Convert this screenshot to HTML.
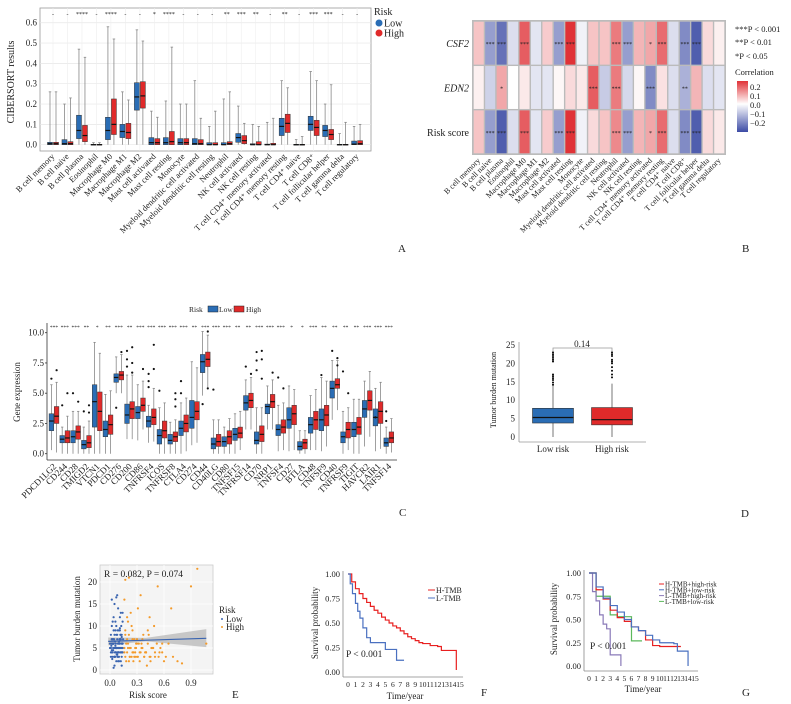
<!DOCTYPE html>
<html><head><meta charset="utf-8">
<style>
html,body{margin:0;padding:0;background:#fff;}
svg{display:block;font-family:"Liberation Serif",serif;}
</style></head>
<body>
<svg id="fig" width="791" height="704" viewBox="0 0 791 704" xmlns="http://www.w3.org/2000/svg"></svg>
<script>
// ---------- Panel A data ----------
const cellTypes=["B cell memory","B cell naive","B cell plasma","Eosinophil","Macrophage M0","Macrophage M1","Macrophage M2","Mast cell activated","Mast cell resting","Monocyte","Myeloid dendritic cell activated","Myeloid dendritic cell resting","Neutrophil","NK cell activated","NK cell resting","T cell CD4⁺ memory activated","T cell CD4⁺ memory resting","T cell CD4⁺ naive","T cell CD8⁺","T cell follicular helper","T cell gamma delta","T cell regulatory"];
const aLowQ1=[0,0,.03,0,.025,.035,.17,0,0,0,0,0,0,.012,0,0,.045,0,.07,.04,0,0];
const aLowMed=[.005,.005,.07,0,.07,.065,.235,.01,.01,.01,.005,0,0,.035,0,0,.09,0,.1,.07,0,.003];
const aLowQ3=[.012,.025,.145,.002,.135,.1,.305,.035,.035,.03,.03,.01,.01,.055,.005,.003,.13,.002,.14,.095,.002,.018];
const aLowHi=[.26,.2,.47,.01,.58,.26,.565,.165,.215,.2,.315,.09,.225,.19,.1,.11,.315,.025,.36,.2,.055,.09];
const aHighQ1=[0,0,.015,0,.05,.03,.18,0,0,0,0,0,0,.005,0,0,.06,0,.045,.025,0,0];
const aHighMed=[.005,.005,.045,0,.1,.06,.24,.01,.015,.01,.005,0,.005,.02,0,0,.105,0,.085,.05,0,.005];
const aHighQ3=[.012,.015,.095,.002,.225,.105,.31,.03,.065,.03,.025,.01,.015,.045,.015,.007,.15,.002,.12,.075,.002,.02];
const aHighHi=[.26,.23,.43,.01,.52,.22,.51,.135,.48,.2,.13,.165,.26,.105,.09,.13,.28,.04,.315,.295,.11,.1];
const aSig=["-","-","****","-","****","-","-","*","****","-","-","-","**","***","**","-","**","-","***","***","-","-"];
const aTicks=[0,0.1,0.2,0.3,0.4,0.5,0.6];

// ---------- Panel B data ----------
const hmRows=["CSF2","EDN2","Risk score"];
const hmCSF2=[.08,-.15,-.22,-.05,.22,-.04,.07,-.15,.28,-.02,.08,.08,.18,-.15,.1,.12,.2,-.05,-.18,-.25,.05,.02];
const hmEDN2=[.02,-.07,.12,0,.03,-.04,-.04,.01,.05,.03,.22,-.08,.18,-.06,.01,-.18,.04,-.05,-.12,.1,-.05,-.04];
const hmRisk=[.08,-.15,-.25,-.05,.22,-.04,.07,-.15,.28,-.02,.05,.08,.16,-.15,.1,.12,.2,-.05,-.18,-.25,.05,.03];
const starCSF2=["","***","***","","***","","","***","***","","","","***","***","","*","***","","***","***","",""];
const starEDN2=["","","*","","","","","","","","***","","***","","","***","","","**","","",""];
const starRisk=["","***","***","","***","","","***","***","","","","***","***","","*","***","","***","***","",""];

// ---------- Panel C data ----------
const genes=["PDCD1LG2","CD244","CD28","TMIGD2","VTCN1","PDCD1","CD276","CD200","CD86","TNFRSF4","ICOS","TNFRSF8","CTLA4","CD274","CD44","CD40LG","CD80","TNFSF15","TNFRSF14","CD70","NRP1","TNFSF4","CD27","BTLA","CD48","TNFSF9","CD40","TNFRSF9","TIGIT","HAVCR2","LAIR1","TNFSF14"];
const cLowQ1=[1.9,.9,.9,.4,2.2,1.4,5.9,2.5,2.9,2.2,.8,.8,1.5,2.1,6.7,.4,.6,1.1,3.6,.8,3.3,1.5,2.1,.3,1.7,1.9,4.6,.9,1.4,3,2.3,.6];
const cLowMed=[2.7,1.2,1.4,.75,4.3,2,6.3,3.2,3.4,2.7,1.5,1.1,2.1,3,7.6,.8,1,1.6,4.2,1.1,3.9,2,2.8,.6,2.4,2.8,5.4,1.4,2,3.7,3,.9];
const cLowQ3=[3.3,1.5,1.9,1.1,5.7,2.7,6.6,4.1,3.9,3.1,2,1.6,2.7,4.4,8.2,1.3,1.4,2.1,4.8,1.8,4.1,2.4,3.8,1,3,3.7,6,1.8,2.6,4.4,3.7,1.3];
const cLowLo=[.3,0,0,0,0,0,5,1.2,1.1,.9,0,0,0,.7,4.8,0,0,0,2,0,2,.2,.2,0,.3,.2,2.8,0,0,.6,.2,0];
const cLowHi=[5.7,2.2,3.5,2.2,9.2,4.9,8,6.5,5.7,4,3.8,2.6,4.2,7.6,10.1,2.8,2.2,3.3,6.1,3.8,5.6,4,5.6,1.9,4.8,6.3,7.7,3.5,4.5,6,5.4,2.2];
const cHighQ1=[2.5,.9,1.2,.5,1.9,1.6,6.1,2.9,3.5,2.4,1.3,1,1.8,2.8,7.2,.6,.8,1.3,3.8,1,3.8,1.7,2.4,.4,2,2.3,5.4,1.3,1.6,3.6,2.5,.9];
const cHighMed=[3.1,1.3,1.8,.9,3.5,2.4,6.5,3.7,4,3,1.9,1.4,2.5,3.5,7.8,1,1.4,1.7,4.4,1.6,4.3,2.2,3.3,.9,2.8,3.2,5.7,2,2.2,4.4,3.5,1.3];
const cHighQ3=[3.9,1.9,2.3,1.5,5.1,3.2,6.8,4.3,4.6,3.7,2.7,1.8,3.2,4.3,8.4,1.6,1.9,2.2,5,2.3,4.9,2.8,4,1.2,3.5,4,6.2,2.6,3,5.2,4.3,1.8];
const cHighLo=[.1,0,0,0,0,0,5,1.2,2,1,0,0,.2,.9,5.5,0,0,.3,2,0,2,.3,.3,0,.3,.6,3.6,.3,0,1.4,.4,.1];
const cHighHi=[5.9,3.1,3.5,2.7,8.3,5.2,8.2,6.5,6,5.4,4.2,2.8,4.6,7.1,9.8,2.8,2.9,3.5,6.3,3.8,6.1,4.2,5.3,1.9,5.3,6,7.7,3.8,4.5,6.8,5.9,2.9];
const cSig=["***","***","***","**","*","**","***","**","***","***","***","***","***","**","***","***","***","**","**","***","***","***","*","*","***","**","**","**","**","***","***","***"];
const cTicks=[0,2.5,5,7.5,10];
// outliers: gene index, group (0 low / 1 high), value
const cOutGene=[0,0,1,1,2,2,3,3,3,6,6,7,7,7,7,7,7,8,9,9,9,9,9,10,11,11,11,12,12,14,14,14,15,18,18,19,19,19,19,19,19,20,21,21,25,26,26,26,27,27,30,31,31];
const cOutGrp=[0,1,0,1,0,1,0,1,1,0,1,0,0,0,1,1,1,1,0,0,0,1,1,0,1,1,1,0,0,0,1,1,0,0,1,0,0,0,1,1,1,1,0,1,0,0,1,1,0,1,0,0,0];
const cOutVal=[6.2,6.9,4,5,5,4.3,3.5,3.4,4,3.8,8.4,8.5,7.8,7.2,8.8,7.5,6.7,7,6.6,6,5.5,7,9,5.2,5,4.5,3.9,6,5,4.1,10.1,5.4,5.3,7.2,6.6,8.4,7.7,6.9,8.5,7.8,6.2,6.7,6.3,5.4,6.5,8.5,7.9,7.3,6.8,5,3,3.5,2.7];

// ---------- Panel D data ----------
const dGroups=["Low risk","High risk"];
const dQ1=[3.8,3.3], dMed=[5.3,4.7], dQ3=[7.8,8.0], dLo=[0,0], dHi=[14,14.5];
const dOutLow=[14.2,14.8,15.5,16,16.5,17,20.5,21,21.5,22,22.5,23];
const dOutHigh=[16.2,17,18,19,20,20.5,21,22,22.5,23];
const dTicks=[0,5,10,15,20,25];

// ---------- Panel E data ----------
const eLowX=[.01,.02,.03,.04,.05,.06,.07,.08,.09,.1,.11,.12,.13,.14,.02,.04,.06,.08,.1,.12,.14,.01,.03,.05,.07,.09,.11,.13,.02,.05,.08,.11,.14,.03,.06,.09,.12,.0,.04,.07,.1,.13,.05,.09,.12,.02,.06,.1,.13,.08,.03,.11,.07,.04,.12,
 .01,.015,.025,.035,.045,.055,.065,.075,.085,.095,.105,.115,.125,.135,.145,.01,.02,.03,.04,.05,.06,.07,.08,.09,.1,.11,.12,.13,.14,.015,.035,.055,.075,.095,.115,.135,.025,.045,.065,.085,.105,.125,.0,.02,.04,.06,.08,.1,.12,.14,.03,.05,.07,.09,.11,.13];
const eLowY=[5,4,6,7,3,5,8,4,6,9,5,7,3,6,10,12,11,8,2,4,13,3,6,5,2,14,9,1,16,15,17,12,11,7,4,3,8,6,9,10,5,6,1,2,13,4.5,5.5,6.5,7.5,3.5,11,9.5,16.5,0.5,4,
 4,6,3,5,7,4,6,5,3,4,6,8,5,4,7,8,7,4,6,3,9,5,7,4,3,6,5,8,4,5.5,4.5,6.5,3.5,5,7,6,2.5,3,4,9,7,10,5,7,6,3,5,4,2,5,6,8,5,6,7,4,3];
const eHighX=[.16,.18,.2,.22,.25,.28,.3,.33,.35,.38,.4,.43,.45,.48,.5,.55,.6,.65,.7,.75,.8,.9,.97,1.07,.17,.19,.21,.24,.27,.31,.36,.42,.47,.52,.58,.62,.68,.16,.2,.23,.26,.29,.34,.39,.44,.49,.56,.18,.22,.25,.3,.37,.41,.53,.17,.21,.28,.33,
 .16,.17,.19,.2,.22,.24,.26,.27,.29,.31,.32,.34,.36,.38,.4,.42,.44,.46,.5,.54,.58,.17,.19,.21,.23,.25,.28,.3,.35,.4,.45];
const eHighY=[4,6,5,3,7,4,6,2,5,3,4,8,2,5,3,4,2,6,3,2,1.5,19,23,6,9,12,8,10,3,14,7,9,5,6,4,3,14,16,11,13,2,6,17,4,12,10,5,2,3,9,7,8,1,19,20.5,21,3,4,
 5,3,4,6,5,3,4,7,5,3,6,4,5,3,4,6,3,5,4,3,6,8,7,2,5,4,5,3,6,4,3];
const eTicksX=[0,0.3,0.6,0.9];
const eTicksY=[0,5,10,15,20];
const eFitStart=[-.02,6.5], eFitEnd=[1.07,7.2];

// ---------- Panel F data ----------
const fHtime=[0,.5,1,1.5,2,2.5,3,3.5,4,4.5,5,5.5,6,6.5,7,7.5,8,8.5,9,9.5,10,11,12,12.5,13,14.5];
const fHsurv=[1,.92,.85,.8,.75,.71,.67,.63,.6,.56,.53,.5,.47,.45,.42,.39,.36,.34,.32,.3,.29,.27,.26,.22,.22,.02];
const fLtime=[0,.3,.6,1,1.3,1.6,2,2.5,3,4,5,6,6.5,7.5];
const fLsurv=[1,.9,.8,.7,.62,.55,.45,.35,.3,.3,.23,.23,.12,.12];
const fXticks=[0,1,2,3,4,5,6,7,8,9,10,11,12,13,14,15];
const survTicks=[0,0.25,0.5,0.75,1];

// ---------- Panel G data ----------
const gHHtime=[0,1,2,3,4,5,6,7,8,9,10,13];
const gHHsurv=[1,.82,.72,.6,.52,.48,.42,.38,.28,.22,.21,.21];
const gHLtime=[0,1,2,3,4,5,6,7,8,9,10,12,12.5,14,14.01];
const gHLsurv=[1,.85,.73,.65,.58,.5,.42,.38,.33,.28,.25,.24,.16,.16,0];
const gLHtime=[0,.5,1,1.5,2,2.5,3,4.5,4.51];
const gLHsurv=[1,.8,.7,.55,.45,.4,.12,.12,0];
const gLLtime=[0,1,2,3,4,6,6.01,7.5];
const gLLsurv=[1,.75,.75,.55,.53,.53,.27,.27];
const gLegend=["H-TMB+high-risk","H-TMB+low-risk","L-TMB+high-risk","L-TMB+low-risk"];

// ---------- helpers ----------
const NS="http://www.w3.org/2000/svg";
const svg=document.getElementById('fig');
function mk(parent,tag,attrs,name){
  const el=document.createElementNS(NS,tag);
  for(const k in attrs) el.setAttribute(k,attrs[k]);
  
  
  parent.appendChild(el);
  return el;
}
function txt(parent,x,y,s,size,name,extra){
  const a=Object.assign({x:x,y:y,'font-size':size,fill:'#222'},extra||{});
  const t=mk(parent,'text',a,name);
  t.textContent=s;
  return t;
}
function line(p,x1,y1,x2,y2,col,w,name){return mk(p,'line',{x1:x1,y1:y1,x2:x2,y2:y2,stroke:col,'stroke-width':w||1},name);}
function box(p,cx,w,q1,med,q3,lo,hi,ys,fill,name){
  const g=mk(p,'g',{},name);
  line(g,cx,ys(hi),cx,ys(q3),'#888',0.8,'whisker-upper');
  line(g,cx,ys(q1),cx,ys(lo),'#888',0.8,'whisker-lower');
  line(g,cx-w/4,ys(hi),cx+w/4,ys(hi),'#888',0.8,'whisker-cap');
  const h=Math.max(ys(q1)-ys(q3),0.8);
  mk(g,'rect',{x:cx-w/2,y:ys(q3),width:w,height:h,fill:fill,stroke:'#333','stroke-width':0.5},'box-body');
  line(g,cx-w/2,ys(med),cx+w/2,ys(med),'#111',1.2,'box-median');
  return g;
}
const BLUE='#2a6db5', RED='#e02a2a';

// ---------- Panel A ----------
(function(){
  const g=mk(svg,'g',{},'panel-a-cibersort');
  const L=40,R=371,T=8,B=151;
  const ys=v=>144.7-v*203.3;
  const xs=i=>53+i*14.48;
  mk(g,'rect',{x:L,y:T,width:R-L,height:B-T,fill:'#fff',stroke:'#999','stroke-width':0.8},'plot-area');
  aTicks.forEach(t=>{line(g,L,ys(t),R,ys(t),'#e6e6e6',0.7,'gridline');
    txt(g,L-3,ys(t)+3,t.toFixed(1),9,'y-tick-label',{'text-anchor':'end'});});
  cellTypes.forEach((c,i)=>{
    line(g,xs(i),T,xs(i),B,'#eee',0.6,'gridline-x');
    box(g,xs(i)-3,5,aLowQ1[i],aLowMed[i],aLowQ3[i],0,aLowHi[i],ys,BLUE,'box-low-'+i);
    box(g,xs(i)+3,5,aHighQ1[i],aHighMed[i],aHighQ3[i],0,aHighHi[i],ys,RED,'box-high-'+i);
    txt(g,xs(i),16,aSig[i],6,'significance-mark',{'text-anchor':'middle'});
    txt(g,xs(i)+2,157,c,8.5,'x-tick-label',{'text-anchor':'end',transform:`rotate(-45 ${xs(i)+2} 157)`});
  });
  txt(g,14,82,'CIBERSORT results',10,'y-axis-title',{'text-anchor':'middle',transform:'rotate(-90 14 82)'});
  txt(g,374,15,'Risk',10,'legend-title');
  mk(g,'circle',{cx:379,cy:23,r:3.5,fill:BLUE},'legend-low-swatch');
  txt(g,384,26.5,'Low',10,'legend-low-label');
  mk(g,'circle',{cx:379,cy:33,r:3.5,fill:RED},'legend-high-swatch');
  txt(g,384,36.5,'High',10,'legend-high-label');
  txt(g,398,252,'A',11,'panel-label-a');
})();

// ---------- Panel B ----------
(function(){
  const g=mk(svg,'g',{},'panel-b-heatmap');
  const L=473,R=725,T=21,B=154;
  const cw=(R-L)/22, rh=(B-T)/3;
  function col(v){
    const t=Math.max(-1,Math.min(1,v/0.28));
    let r,gg,b;
    if(t>=0){r=255+(224-255)*t;gg=255+(50-255)*t;b=255+(55-255)*t;}
    else{const s=-t;r=255+(60-255)*s;gg=255+(75-255)*s;b=255+(165-255)*s;}
    return `rgb(${r|0},${gg|0},${b|0})`;
  }
  const rows=[hmCSF2,hmEDN2,hmRisk], stars=[starCSF2,starEDN2,starRisk];
  mk(g,'rect',{x:L-1,y:T-1,width:R-L+2,height:B-T+2,fill:'#bbb'},'heatmap-frame');
  rows.forEach((row,r)=>{
    row.forEach((v,c)=>{
      mk(g,'rect',{x:L+c*cw+0.7,y:T+r*rh+0.7,width:cw-1.4,height:rh-1.4,fill:col(v)},'heatmap-cell');
      if(stars[r][c]) txt(g,L+c*cw+cw/2,T+r*rh+rh/2+3,stars[r][c],6,'cell-significance',{'text-anchor':'middle'});
    });
    txt(g,L-4,T+r*rh+rh/2+4,hmRows[r],10,'row-label',{'text-anchor':'end','font-style':r<2?'italic':'normal'});
  });
  cellTypes.forEach((c,i)=>{
    const x=L+i*cw+cw/2+2;
    txt(g,x,161,c,8,'column-label',{'text-anchor':'end',transform:`rotate(-45 ${x} 161)`});
  });
  txt(g,735,32,'***P < 0.001',8.5,'legend-p001');
  txt(g,735,45,'**P < 0.01',8.5,'legend-p01');
  txt(g,735,59,'*P < 0.05',8.5,'legend-p05');
  txt(g,735,75,'Correlation',8.5,'legend-correlation-title');
  const defs=mk(g,'defs',{},'defs');
  const lg=mk(defs,'linearGradient',{id:'cg',x1:0,y1:0,x2:0,y2:1},'gradient');
  [['0',col(.28)],['0.45','#fff'],['1',col(-.28)]].forEach(s=>mk(lg,'stop',{offset:s[0],'stop-color':s[1]},'gradient-stop'));
  mk(g,'rect',{x:737,y:81,width:11,height:51,fill:'url(#cg)'},'color-bar');
  [['0.2',90],['0.1',99],['0.0',108],['−0.1',117],['−0.2',126]].forEach(t=>txt(g,750,t[1],t[0],8.5,'color-bar-tick'));
  txt(g,742,252,'B',11,'panel-label-b');
})();

// ---------- Panel C ----------
(function(){
  const g=mk(svg,'g',{},'panel-c-checkpoint');
  const L=47,R=397,T=323,B=460;
  const ys=v=>453.7-v*12.1;
  const xs=i=>54+i*10.8;
  line(g,L,T,L,B,'#333',0.8,'y-axis');
  line(g,L,B,R,B,'#333',0.8,'x-axis');
  cTicks.forEach(t=>{txt(g,L-3,ys(t)+3,t.toFixed(1),9,'y-tick-label',{'text-anchor':'end'});line(g,L-2,ys(t),L,ys(t),'#333',0.8,'y-tick');});
  genes.forEach((n,i)=>{
    box(g,xs(i)-2.6,4.6,cLowQ1[i],cLowMed[i],cLowQ3[i],cLowLo[i],cLowHi[i],ys,BLUE,'box-low-'+n);
    box(g,xs(i)+2.6,4.6,cHighQ1[i],cHighMed[i],cHighQ3[i],cHighLo[i],cHighHi[i],ys,RED,'box-high-'+n);
    txt(g,xs(i),329,cSig[i],5.5,'significance-mark',{'text-anchor':'middle'});
    txt(g,xs(i)+3,467,n,9,'x-tick-label',{'text-anchor':'end',transform:`rotate(-45 ${xs(i)+3} 467)`});
  });
  cOutGene.forEach((gi,k)=>{
    const o=mk(g,'circle',{cx:xs(gi)+(cOutGrp[k]?2.6:-2.6),cy:ys(cOutVal[k]),r:1.1,fill:'#111'},'outlier');
  });
  txt(g,20,392,'Gene expression',9,'y-axis-title',{'text-anchor':'middle',transform:'rotate(-90 20 392)'});
  txt(g,189,312,'Risk',7.5,'legend-title');
  mk(g,'rect',{x:208,y:306,width:10,height:6,fill:BLUE,stroke:'#222','stroke-width':0.5},'legend-low-swatch');
  txt(g,219,312,'Low',7.5,'legend-low-label');
  mk(g,'rect',{x:234,y:306,width:10,height:6,fill:RED,stroke:'#222','stroke-width':0.5},'legend-high-swatch');
  txt(g,246,312,'High',7.5,'legend-high-label');
  txt(g,399,516,'C',11,'panel-label-c');
})();

// ---------- Panel D ----------
(function(){
  const g=mk(svg,'g',{},'panel-d-tmb');
  const ys=v=>437-v*3.68;
  const cx=[553,612];
  line(g,519,342,519,442,'#999',0.8,'y-axis');
  line(g,519,442,646,442,'#999',0.8,'x-axis');
  dTicks.forEach(t=>txt(g,515,ys(t)+3,String(t),9,'y-tick-label',{'text-anchor':'end'}));
  const fills=[BLUE,RED];
  dGroups.forEach((n,i)=>{
    const bg=mk(g,'g',{},'box-'+n.replace(' ','-').toLowerCase());
    line(bg,cx[i],ys(dHi[i]),cx[i],ys(dLo[i]),'#555',0.8,'whisker');
    mk(bg,'rect',{x:cx[i]-20.5,y:ys(dQ3[i]),width:41,height:ys(dQ1[i])-ys(dQ3[i]),fill:fills[i],stroke:'#333','stroke-width':0.6},'box-body');
    line(bg,cx[i]-20.5,ys(dMed[i]),cx[i]+20.5,ys(dMed[i]),'#111',1.2,'box-median');
    txt(g,cx[i],452,n,9,'x-tick-label',{'text-anchor':'middle'});
  });
  dOutLow.forEach(v=>mk(g,'circle',{cx:cx[0],cy:ys(v),r:1},'outlier'));
  dOutHigh.forEach(v=>mk(g,'circle',{cx:cx[1],cy:ys(v),r:1},'outlier'));
  mk(g,'path',{d:`M${cx[0]},${ys(23.3)}V348H${cx[1]}V${ys(23.3)}`,fill:'none',stroke:'#999','stroke-width':0.8},'comparison-bracket');
  txt(g,582,347,'0.14',9,'p-value-label',{'text-anchor':'middle'});
  txt(g,496,390,'Tumor burden mutation',8,'y-axis-title',{'text-anchor':'middle',transform:'rotate(-90 496 390)'});
  txt(g,741,517,'D',11,'panel-label-d');
})();

// ---------- Panel E ----------
(function(){
  const g=mk(svg,'g',{},'panel-e-scatter');
  const xs=v=>110+v*90, ys=v=>670-v*4.4;
  mk(g,'rect',{x:100,y:565,width:113,height:109,fill:'#f4f4f4',stroke:'#ccc','stroke-width':0.8},'plot-area');
  eTicksX.forEach(t=>{line(g,xs(t),565,xs(t),674,'#fff',0.8,'gridline-x');txt(g,xs(t),686,t.toFixed(1),9,'x-tick-label',{'text-anchor':'middle'});});
  eTicksY.forEach(t=>{line(g,100,ys(t),213,ys(t),'#fff',0.8,'gridline-y');txt(g,97,ys(t)+3,String(t),9,'y-tick-label',{'text-anchor':'end'});});
  mk(g,'polygon',{points:`${xs(-.02)},${ys(7.4)} ${xs(.4)},${ys(7.3)} ${xs(1.07)},${ys(9.3)} ${xs(1.07)},${ys(5.2)} ${xs(.4)},${ys(6.5)} ${xs(-.02)},${ys(5.6)}`,fill:'#bbb',opacity:0.8},'confidence-band');
  eLowX.forEach((x,i)=>mk(g,'circle',{cx:xs(x),cy:ys(eLowY[i]),r:1.1,fill:'#3a64b0'},'point-low'));
  eHighX.forEach((x,i)=>mk(g,'circle',{cx:xs(x),cy:ys(eHighY[i]),r:1.1,fill:'#f39a2a'},'point-high'));
  line(g,xs(eFitStart[0]),ys(eFitStart[1]),xs(eFitEnd[0]),ys(eFitEnd[1]),'#3a64b0',1.2,'regression-line');
  txt(g,104,577,'R = 0.082, P = 0.074',9.5,'correlation-annotation');
  txt(g,80,619,'Tumor burden mutation',9,'y-axis-title',{'text-anchor':'middle',transform:'rotate(-90 80 619)'});
  txt(g,148,698,'Risk score',9,'x-axis-title',{'text-anchor':'middle'});
  txt(g,219,613,'Risk',9,'legend-title');
  mk(g,'circle',{cx:222,cy:619,r:1,fill:'#3a64b0'},'legend-low-swatch');
  txt(g,226,622,'Low',9,'legend-low-label');
  mk(g,'circle',{cx:222,cy:627,r:1,fill:'#f39a2a'},'legend-high-swatch');
  txt(g,226,630,'High',9,'legend-high-label');
  txt(g,232,698,'E',11,'panel-label-e');
})();

// ---------- survival helper ----------
function km(g,times,surv,xs,ys,col,name){
  let d=`M${xs(times[0])},${ys(surv[0])}`;
  for(let i=1;i<times.length;i++){d+=`H${xs(times[i])}V${ys(surv[i])}`;}
  mk(g,'path',{d:d,fill:'none',stroke:col,'stroke-width':1.2},name);
}
function survAxes(g,L,x0,per,y1,y0,B,maxT){
  const xs=v=>x0+v*per, ys=v=>y0-v*(y0-y1);
  line(g,L,y1-3,L,B,'#888',0.8,'y-axis');
  line(g,L,B,xs(maxT)+3,B,'#888',0.8,'x-axis');
  survTicks.forEach(t=>txt(g,L-3,ys(t)+3,t.toFixed(2),8.5,'y-tick-label',{'text-anchor':'end'}));
  fXticks.forEach(t=>txt(g,xs(t),B+10,String(t),7.5,'x-tick-label',{'text-anchor':'middle'}));
  return [xs,ys];
}

// ---------- Panel F ----------
(function(){
  const g=mk(svg,'g',{},'panel-f-survival');
  const [xs,ys]=survAxes(g,343,348,7.47,574,672,677,15);
  km(g,fHtime,fHsurv,xs,ys,'#e82020','curve-h-tmb');
  km(g,fLtime,fLsurv,xs,ys,'#4a70c0','curve-l-tmb');
  txt(g,346,657,'P < 0.001',9.5,'p-value-label');
  txt(g,318,623,'Survival probability',9,'y-axis-title',{'text-anchor':'middle',transform:'rotate(-90 318 623)'});
  txt(g,405,699,'Time/year',9,'x-axis-title',{'text-anchor':'middle'});
  line(g,428,590,435,590,'#e82020',1,'legend-h-swatch');
  txt(g,436,593,'H-TMB',8,'legend-h-label');
  line(g,428,598,435,598,'#4a70c0',1,'legend-l-swatch');
  txt(g,436,601,'L-TMB',8,'legend-l-label');
  txt(g,481,696,'F',11,'panel-label-f');
})();

// ---------- Panel G ----------
(function(){
  const g=mk(svg,'g',{},'panel-g-survival');
  const [xs,ys]=survAxes(g,584,589,7.07,573,666,671,15);
  km(g,gLLtime,gLLsurv,xs,ys,'#5cb85c','curve-ltmb-lowrisk');
  km(g,gLHtime,gLHsurv,xs,ys,'#8a7ab8','curve-ltmb-highrisk');
  km(g,gHHtime,gHHsurv,xs,ys,'#e82020','curve-htmb-highrisk');
  km(g,gHLtime,gHLsurv,xs,ys,'#4a70c0','curve-htmb-lowrisk');
  txt(g,590,649,'P < 0.001',9.5,'p-value-label');
  txt(g,557,619,'Survival probability',9,'y-axis-title',{'text-anchor':'middle',transform:'rotate(-90 557 619)'});
  txt(g,643,692,'Time/year',9,'x-axis-title',{'text-anchor':'middle'});
  const cols=['#e82020','#4a70c0','#8a7ab8','#5cb85c'];
  gLegend.forEach((n,i)=>{
    line(g,659,584+i*5.8,664,584+i*5.8,cols[i],1,'legend-swatch');
    txt(g,665,586.5+i*5.8,n,7,'legend-label');
  });
  txt(g,742,696,'G',11,'panel-label-g');
})();
</script>
</body></html>
